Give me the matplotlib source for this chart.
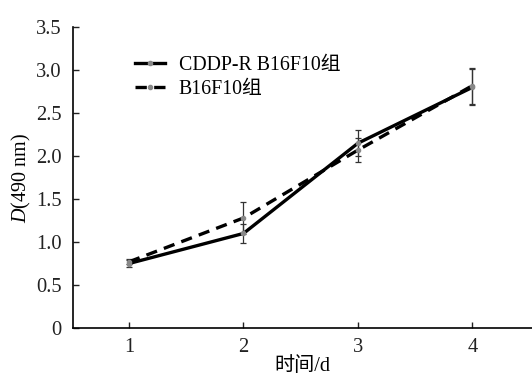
import numpy as np
import matplotlib
matplotlib.use("Agg")
import matplotlib.pyplot as plt
from matplotlib.lines import Line2D

plt.rcParams['font.family'] = ['Liberation Serif', 'Noto Sans CJK SC']
plt.rcParams['mathtext.fontset'] = 'custom'
plt.rcParams['mathtext.it'] = 'Liberation Serif:italic'
plt.rcParams['mathtext.rm'] = 'Liberation Serif'

days = [1, 2, 3, 4]
cddp_mean = [0.75, 1.10, 2.15, 2.80]
cddp_err = [0.04, 0.11, 0.15, 0.21]
b16_mean = [0.77, 1.28, 2.07, 2.82]
b16_err = [0.03, 0.19, 0.14, 0.21]
labels = ['CDDP-R B16F10组', 'B16F10组']

dash = (0, (3.4, 2.2))

fig = plt.figure(figsize=(5.32, 3.77), dpi=100)
ax = fig.add_axes([0.137, 0.130, 0.863, 0.798])

common = dict(color='black', lw=2.4, marker='o', ms=3, mfc='#888888', mec='#888888',
              ecolor='#333333', elinewidth=0.9, capsize=2.5, capthick=0.9)
ax.errorbar(days, cddp_mean, yerr=cddp_err, ls='-', **common)
ax.errorbar(days, b16_mean, yerr=b16_err, ls=dash, **common)

ax.set_xlim(0.51, 4.52)
ax.set_ylim(0, 3.5)
ax.set_xticks(days)
ax.set_yticks(np.arange(0, 3.51, 0.5))
ax.set_yticklabels(['0', '0.5', '1.0', '1.5', '2.0', '2.5', '3.0', '3.5'])
ax.tick_params(direction='in', length=4, width=1, labelsize=14.8, colors='#222222')
ax.tick_params(axis='y', pad=8)
ax.tick_params(axis='x', pad=7)
ax.spines['top'].set_visible(False)
ax.spines['right'].set_visible(False)
for s in ['left', 'bottom']:
    ax.spines[s].set_linewidth(1.2)

ax.set_xlabel('时间/d', fontsize=14.5, labelpad=0)
ax.set_ylabel('$D$(490 nm)', fontsize=14.5, labelpad=2)

handles = [Line2D([], [], color='black', lw=2.4, ls='-', marker='o', ms=3,
                  mfc='#888888', mec='#888888'),
           Line2D([], [], color='black', lw=2.4, ls=dash, marker='o', ms=3,
                  mfc='#888888', mec='#888888')]
ax.legend(handles, labels, loc='upper left', bbox_to_anchor=(0.118, 0.93), frameon=False,
          fontsize=14.3, handlelength=1.5, handletextpad=0.7, labelspacing=0.25,
          borderaxespad=0)

fig.savefig('out.png', dpi=100)
